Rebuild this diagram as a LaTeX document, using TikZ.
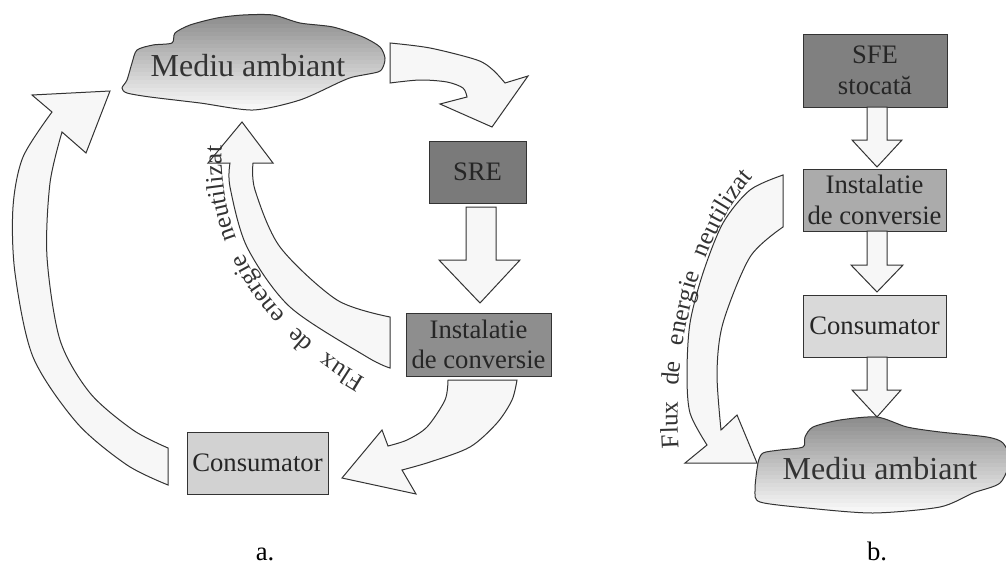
\documentclass[tikz,border=0pt]{standalone}
\usepackage{fontspec}
\setmainfont{Liberation Serif}
\usetikzlibrary{decorations.text}
\definecolor{arrfill}{HTML}{F7F7F7}
\definecolor{sregray}{HTML}{7A7A7A}
\definecolor{instagray}{HTML}{8E8E8E}
\definecolor{consgray}{HTML}{D2D2D2}
\definecolor{sfegray}{HTML}{808080}
\definecolor{instbgray}{HTML}{ABABAB}
\definecolor{consbgray}{HTML}{D9D9D9}
\definecolor{cloudtop}{HTML}{8A8A8A}
\definecolor{outline}{HTML}{333333}
\newcommand\boxfont{\fontsize{20}{23}\selectfont}
\newcommand\fluxfont{\fontsize{19}{22}\selectfont}
\newcommand\cloudfont{\fontsize{24}{26}\selectfont}
\begin{document}
\begin{tikzpicture}[x=0.75pt,y=-0.75pt,
  blockarrow/.style={fill=arrfill, draw=outline, line width=0.75pt, line join=miter},
  box/.style={draw=outline, line width=0.75pt, inner sep=0pt, align=center, font=\boxfont, text=black!85},
  cloudline/.style={draw=outline, line width=0.75pt},
  cloudtext/.style={font=\cloudfont, text=black!80},
  labeltext/.style={font=\boxfont, text=black, inner sep=0pt, anchor=base},
  fluxtext/.style={decorate, decoration={text along path, text={|\fluxfont|Flux de energie neutilizat}, text align=fit to path stretching spaces, text color=black!80, raise=1pt}}
]
\useasboundingbox (0,0) rectangle (1006,564);

% ---------------- panel a ----------------
% cloud (gradient: gray at top, white at bottom)
\begin{scope}
\clip plot[smooth cycle, tension=0.45] coordinates {(122,88) (127,80) (132,63) (137,50) (153,45) (172,43) (175,33) (190,25) (217,18) (243,15) (273,15) (300,23) (333,27) (363,37) (380,47) (385,58) (383,67) (378,72) (353,77) (340,82) (300,100) (253,110) (200,103) (150,97) (127,93)};
\foreach \i in {0,...,24} {
  \pgfmathsetmacro\pc{100-4*\i}
  \fill[cloudtop!\pc!white] (115,{12+4*\i}) rectangle (395,{16.6+4*\i});
}
\end{scope}
\path[cloudline] plot[smooth cycle, tension=0.45] coordinates {(122,88) (127,80) (132,63) (137,50) (153,45) (172,43) (175,33) (190,25) (217,18) (243,15) (273,15) (300,23) (333,27) (363,37) (380,47) (385,58) (383,67) (378,72) (353,77) (340,82) (300,100) (253,110) (200,103) (150,97) (127,93)};
\node[cloudtext] (mediua) at (248,66) {Mediu ambiant};

% arrow cloud -> SRE
\path[blockarrow] (390,43) -- plot[smooth] coordinates {(390,43) (430,48) (477,60) (493,70) (505,83)} -- (528,76) -- (492,127) -- (440,104) -- plot[smooth] coordinates {(467,97) (463,88) (447,82) (420,80) (390,83)} -- cycle;

% boxes
\node[box, fill=sregray, minimum width=72.75pt, minimum height=46.5pt] (sre) at (477.5,172) {SRE};
\node[box, fill=instagray, minimum width=108.75pt, minimum height=47.25pt] (insta) at (478.5,344.5) {Instalatie\\de conversie};
\node[box, fill=consgray, minimum width=105.75pt, minimum height=46.5pt] (consa) at (257.5,463) {Consumator};

% straight arrow SRE -> Instalatie
\path[blockarrow] (466,207) -- (496,207) -- (496,260) -- (520,260) -- (480,303) -- (439,260) -- (466,260) -- cycle;

% arrow Instalatie -> Consumator
\path[blockarrow] (448,380) -- plot[smooth] coordinates {(448,380) (445,400) (427,427) (407,440) (388,446)} -- (382,430) -- (342,478) -- (416,494) -- plot[smooth] coordinates {(402,470) (430,462) (470,447) (497,423) (512,400) (517,380)} -- cycle;

% big arrow Consumator -> cloud
\path[blockarrow] (168,448) -- plot[smooth] coordinates {(168,448) (133,430) (90,393) (60,340) (47,257) (50,183) (62,132)} -- (86,153) -- (110,91) -- (32,95) -- plot[smooth] coordinates {(52,112) (23,157) (13,207) (15,273) (33,357) (77,423) (127,465) (168,485)} -- cycle;

% flux arrow Instalatie -> cloud
\path[blockarrow] (390,317) -- plot[smooth] coordinates {(390,317) (337,300) (280,247) (255,190) (253,163)} -- (273,163) -- (242,122) -- (208,163) -- plot[smooth] coordinates {(230,163) (230,187) (247,247) (290,307) (367,357) (390,368)} -- cycle;
\coordinate (fa0) at (366,377);
\coordinate (fa1) at (223,146);
\path[fluxtext] (fa0) .. controls (280,327) and (220,252) .. (fa1);

\node[labeltext] (la) at (265,560) {a.};

% ---------------- panel b ----------------
\node[box, fill=sfegray, minimum width=108pt, minimum height=54.75pt] (sfe) at (875,70.5) {SFE\\stocată};
\node[box, fill=instbgray, minimum width=107.25pt, minimum height=46.5pt] (instb) at (874.5,200) {Instalatie\\de conversie};
\node[box, fill=consbgray, minimum width=107.25pt, minimum height=46.5pt] (consb) at (874.5,326) {Consumator};

\path[blockarrow] (867,107) -- (887,107) -- (887,140) -- (902,140) -- (877,167) -- (852,140) -- (867,140) -- cycle;
\path[blockarrow] (867,231) -- (887,231) -- (887,265) -- (903,265) -- (877,292) -- (851,265) -- (867,265) -- cycle;

% cloud b
\begin{scope}
\clip plot[smooth cycle, tension=0.45] coordinates {(758,463) (755,490) (760,502) (807,508) (873,513) (940,507) (973,493) (1000,483) (1010,460) (1003,443) (987,437) (940,432) (907,427) (877,417) (840,420) (813,427) (805,437) (803,447) (780,450) (763,453)};
\foreach \i in {0,...,24} {
  \pgfmathsetmacro\pc{100-4*\i}
  \fill[cloudtop!\pc!white] (750,{415+4*\i}) rectangle (1015,{419.6+4*\i});
}
\end{scope}
\path[cloudline] plot[smooth cycle, tension=0.45] coordinates {(758,463) (755,490) (760,502) (807,508) (873,513) (940,507) (973,493) (1000,483) (1010,460) (1003,443) (987,437) (940,432) (907,427) (877,417) (840,420) (813,427) (805,437) (803,447) (780,450) (763,453)};
\node[cloudtext] (mediub) at (880,469) {Mediu ambiant};

\path[blockarrow] (867,357) -- (887,357) -- (887,390) -- (901,390) -- (877,417) -- (852,390) -- (867,390) -- cycle;

% flux arrow b
\path[blockarrow] (783,175) -- plot[smooth] coordinates {(783,175) (750,190) (723,223) (703,273) (690,323) (687,373) (690,413) (707,445)} -- (685,463) -- (757,463) -- (737,415) -- plot[smooth] coordinates {(721,430) (717,373) (723,323) (750,257) (783,227)} -- cycle;
\coordinate (fb0) at (680,448);
\coordinate (fb1) at (754,178);
\path[fluxtext] (fb0) .. controls (673,340) and (703,236) .. (fb1);

\node[labeltext] (lb) at (877,560) {b.};
\end{tikzpicture}
\end{document}
